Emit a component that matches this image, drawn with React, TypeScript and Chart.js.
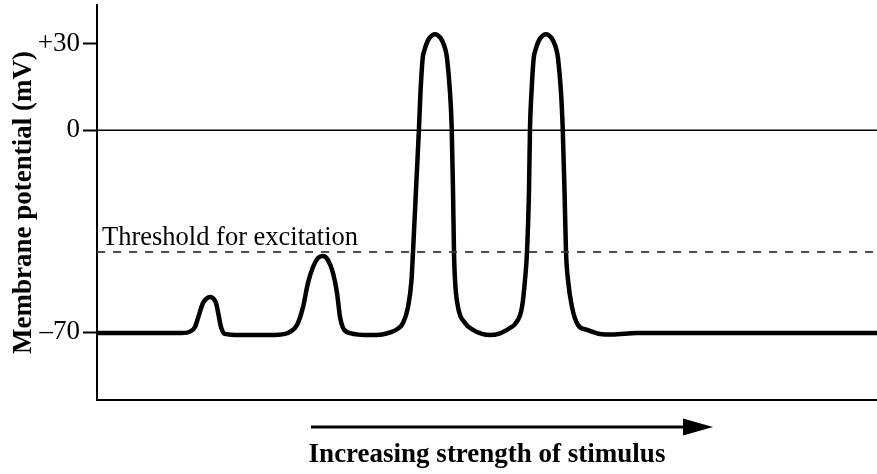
import React, { useEffect, useRef } from "react";
import { Chart, registerables } from "chart.js";

Chart.register(...registerables);

// Stimulus axis (arbitrary units, increasing strength to the right)
const stimulus = [
  0, 85, 93, 98, 101, 106, 110, 113, 116, 119, 121, 124, 128, 143, 173, 188,
  193, 200, 206, 211, 216, 221, 226, 231, 236, 240, 243, 246, 253, 273,
  285, 294, 300, 306, 311, 314.5, 316, 319, 322, 323.5, 325.7, 327.5, 329, 332.5, 338, 343.5, 347, 348.5, 350, 353, 354.7, 356, 357, 358, 361, 368, 376, 385, 393,
  403, 410, 413, 418, 425, 428, 430, 432, 433, 434.5, 436.7, 438.5, 440, 443.5, 449, 454.5, 458, 459.5, 461, 464, 465.7, 467.5, 469, 471, 475, 481, 490, 503, 515, 540, 780,
];

// Membrane potential (mV)
const potential = [
  -70.3, -70.3, -69.8, -68.2, -65.1, -59.9, -58.2, -57.8, -58.2, -59.9, -63.0, -68.2, -70.6, -71.0, -71.0, -70.6,
  -69.9, -67.5, -61.3, -52.9, -47.4, -44.3, -43.6, -45.0, -49.5, -56.4, -64.7, -68.5, -70.3, -71.0,
  -70.8, -70.0, -69.0, -66.8, -61.3, -51.9, -42.2, -20.7, 0.8, 13.2, 25.0, 27.8, 29.5, 32.0, 33.3, 32.0, 29.5, 27.8, 25.0, 13.2, 0.8, -20.7, -42.2, -51.9, -61.3, -66.8, -69.2, -70.6, -71.0,
  -70.4, -69.2, -68.5, -67.2, -61.3, -51.9, -42.2, -20.7, 0.8, 13.2, 25.0, 27.8, 29.5, 32.0, 33.3, 32.0, 29.5, 27.8, 25.0, 13.2, 0.8, -20.7, -42.2, -51.9, -61.3, -67.5, -69.2, -70.6, -70.8, -70.3, -70.3,
];

const stimulusRange = [0, 780];
const potentialRange = [-93.5, 43.4];
const zeroLevel = 0;
const thresholdLevel = -42.2;
const yTickValues = [-70, 0, 30];
const yTickLabels = ["\u201370", "0", "+30"];
const thresholdLabel = "Threshold for excitation";
const xTitle = "Increasing strength of stimulus";
const yTitle = "Membrane potential (mV)";

const SERIF = "'Liberation Serif', 'Times New Roman', serif";

const overlayPlugin = {
  id: "overlay",
  afterDraw(chart: any) {
    const { ctx, chartArea, scales } = chart;
    const y = scales.y.getPixelForValue(thresholdLevel);
    ctx.save();
    ctx.fillStyle = "#000";
    ctx.font = `26.5px ${SERIF}`;
    ctx.textAlign = "left";
    ctx.textBaseline = "alphabetic";
    ctx.fillText(thresholdLabel, chartArea.left + 5, y - 6.5);

    // stimulus arrow
    const ay = chartArea.bottom + 27;
    const x0 = chartArea.left + 214;
    const tip = chartArea.left + 616;
    const base = tip - 30;
    ctx.strokeStyle = "#000";
    ctx.lineWidth = 3;
    ctx.beginPath();
    ctx.moveTo(x0, ay);
    ctx.lineTo(base + 2, ay);
    ctx.stroke();
    ctx.beginPath();
    ctx.moveTo(tip, ay);
    ctx.lineTo(base, ay - 8.5);
    ctx.lineTo(base, ay + 8.5);
    ctx.closePath();
    ctx.fill();
    ctx.restore();
  },
};

export default function App() {
  const ref = useRef<HTMLCanvasElement | null>(null);

  useEffect(() => {
    document.body.style.margin = "0";
    const canvas = ref.current;
    if (!canvas) return;
    const n = Math.min(stimulus.length, potential.length);
    const trace = [];
    for (let i = 0; i < n; i++) trace.push({ x: stimulus[i], y: potential[i] });
    const chart = new Chart(canvas, {
      type: "line",
      data: {
        datasets: [
          {
            data: [
              { x: stimulusRange[0], y: zeroLevel },
              { x: stimulusRange[1], y: zeroLevel },
            ],
            borderColor: "#000",
            borderWidth: 1.5,
            pointRadius: 0,
          },
          {
            data: [
              { x: stimulusRange[0], y: thresholdLevel },
              { x: stimulusRange[1], y: thresholdLevel },
            ],
            borderColor: "#3a3a3a",
            borderWidth: 1.8,
            borderDash: [8, 8],
            pointRadius: 0,
          },
          {
            data: trace,
            borderColor: "#000",
            borderWidth: 4.5,
            pointRadius: 0,
            cubicInterpolationMode: "monotone",
            borderJoinStyle: "round",
            borderCapStyle: "round",
          },
        ],
      },
      options: {
        animation: false,
        responsive: false,
        devicePixelRatio: 1,
        layout: { padding: { top: 5, right: 0, left: 0, bottom: 0 } },
        plugins: {
          legend: { display: false },
          tooltip: { enabled: false },
        },
        scales: {
          x: {
            type: "linear",
            min: stimulusRange[0],
            max: stimulusRange[1],
            ticks: { display: false },
            grid: { display: false },
            border: { display: true, color: "#000", width: 2 },
            title: {
              display: true,
              text: xTitle,
              color: "#000",
              font: { family: SERIF, size: 27, weight: "bold" },
              padding: { top: 0, bottom: 3 },
            },
            afterFit: (s: any) => {
              s.height = 74;
              s.paddingLeft = 0;
              s.paddingRight = 0;
            },
          },
          y: {
            type: "linear",
            min: potentialRange[0],
            max: potentialRange[1],
            afterBuildTicks: (s: any) => {
              s.ticks = yTickValues.map((v) => ({ value: v }));
            },
            ticks: {
              color: "#000",
              padding: 3,
              font: { family: SERIF, size: 27 },
              callback: (v: any) => {
                const i = yTickValues.indexOf(Number(v));
                return i >= 0 ? yTickLabels[i] : "";
              },
            },
            grid: {
              drawOnChartArea: false,
              drawTicks: true,
              tickLength: 14,
              tickWidth: 2,
              tickColor: "#000",
            },
            border: { display: true, color: "#000", width: 2 },
            title: {
              display: true,
              text: yTitle,
              color: "#000",
              font: { family: SERIF, size: 27, weight: "bold" },
              padding: { top: 8, bottom: 0 },
            },
            afterFit: (s: any) => {
              s.width = 97;
              s.paddingTop = 0;
              s.paddingBottom = 0;
            },
          },
        },
      },
      plugins: [overlayPlugin],
    });
    return () => chart.destroy();
  }, []);

  return (
    <div style={{ width: 877, height: 474 }}>
      <canvas ref={ref} width={877} height={474} style={{ display: "block" }} />
    </div>
  );
}
